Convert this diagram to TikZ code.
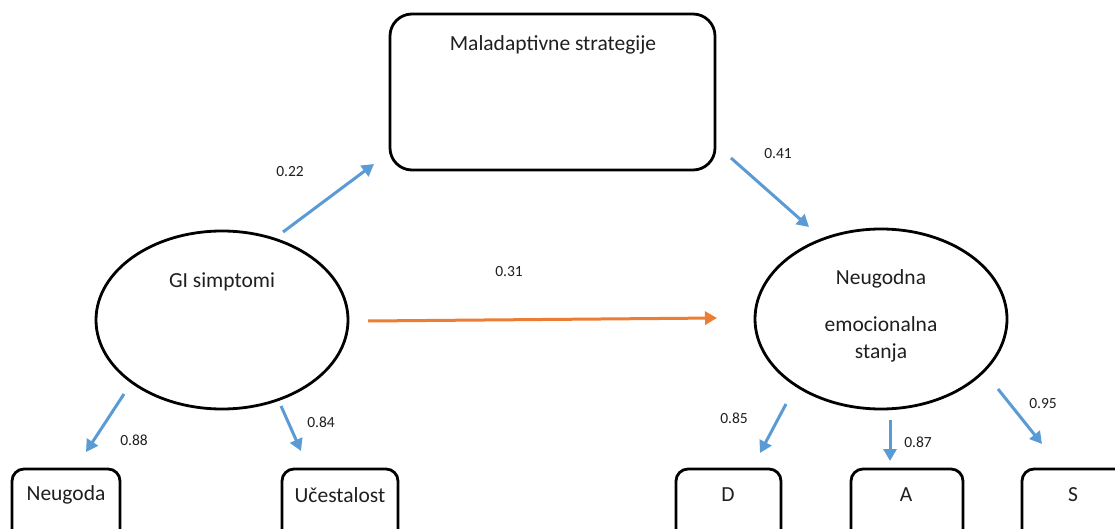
\documentclass[tikz,border=0pt]{standalone}
\usepackage{fontspec}
\setmainfont{Carlito}
\usetikzlibrary{arrows.meta,shapes.geometric}
\definecolor{arrowblue}{HTML}{5B9BD5}
\definecolor{arroworange}{HTML}{ED7D31}
\definecolor{txt}{HTML}{1F1F1F}
\begin{document}
\begin{tikzpicture}[x=1pt,y=-1pt,
  boxshape/.style={draw=black, line width=2.8pt, rounded corners=22pt, inner sep=0pt},
  ellshape/.style={draw=black, line width=2.8pt, ellipse, inner sep=0pt},
  maintext/.style={text=txt, font=\fontsize{21.5}{26}\selectfont, inner sep=0pt},
  coef/.style={text=txt, font=\fontsize{15.5}{18}\selectfont, inner sep=0pt},
  bluearrow/.style={draw=arrowblue, line width=3pt, -{Triangle[length=12pt,width=13pt]}},
  orangearrow/.style={draw=arroworange, line width=3pt, -{Triangle[length=12pt,width=13pt]}}
]
\clip (0,0) rectangle (1115,529);
\fill[white] (0,0) rectangle (1115,529);

% shapes
\node[boxshape, minimum width=325pt, minimum height=156pt] (mal) at (552.5,92) {};
\node[ellshape, minimum width=252pt, minimum height=178pt] (gi) at (222,320) {};
\node[ellshape, minimum width=252pt, minimum height=180pt] (neu) at (881,319) {};
\node[boxshape, rounded corners=12pt, minimum width=108pt, minimum height=84pt] (neugoda) at (66,511) {};
\node[boxshape, rounded corners=12pt, minimum width=116pt, minimum height=84pt] (uc) at (340,511) {};
\node[boxshape, rounded corners=12pt, minimum width=105pt, minimum height=84pt] (d) at (728.5,511) {};
\node[boxshape, rounded corners=12pt, minimum width=112pt, minimum height=84pt] (a) at (907,511) {};
\node[boxshape, rounded corners=12pt, minimum width=110pt, minimum height=84pt] (s) at (1077,511) {};

% texts
\node[maintext] (maltext) at (553,45) {Maladaptivne strategije};
\node[maintext] (gitext) at (222,282) {GI simptomi};
\node[maintext] (neut1) at (881,279) {Neugodna};
\node[maintext] (neut2) at (881,324) {emocionalna};
\node[maintext] (neut3) at (881,353) {stanja};
\node[maintext] (neugodatext) at (66,495) {Neugoda};
\node[maintext] (uctext) at (340,495) {Učestalost};
\node[maintext] (dtext) at (728,495) {D};
\node[maintext] (atext) at (906,495) {A};
\node[maintext] (stext) at (1073,495) {S};

% coefficients
\node[coef] (c22) at (290,172) {0.22};
\node[coef] (c41) at (778,154) {0.41};
\node[coef] (c31) at (509,272) {0.31};
\node[coef] (c88) at (134,440) {0.88};
\node[coef] (c84) at (321,422) {0.84};
\node[coef] (c85) at (734,418) {0.85};
\node[coef] (c87) at (918,442) {0.87};
\node[coef] (c95) at (1043,404) {0.95};

% arrow end points
\coordinate (s22) at (283,232); \coordinate (e22) at (374,164);
\coordinate (s41) at (731,158); \coordinate (e41) at (809,227);
\coordinate (s31) at (368,321); \coordinate (e31) at (717,318);
\coordinate (s88) at (124,394); \coordinate (e88) at (86,452);
\coordinate (s84) at (281,406); \coordinate (e84) at (301,451);
\coordinate (s85) at (786,404); \coordinate (e85) at (760,453);
\coordinate (s87) at (890,420); \coordinate (e87) at (890,461);
\coordinate (s95) at (998,389); \coordinate (e95) at (1042,444);

\draw[bluearrow] (s22) -- (e22);
\draw[bluearrow] (s41) -- (e41);
\draw[orangearrow] (s31) -- (e31);
\draw[bluearrow] (s88) -- (e88);
\draw[bluearrow] (s84) -- (e84);
\draw[bluearrow] (s85) -- (e85);
\draw[bluearrow] (s87) -- (e87);
\draw[bluearrow] (s95) -- (e95);
\end{tikzpicture}
\end{document}
